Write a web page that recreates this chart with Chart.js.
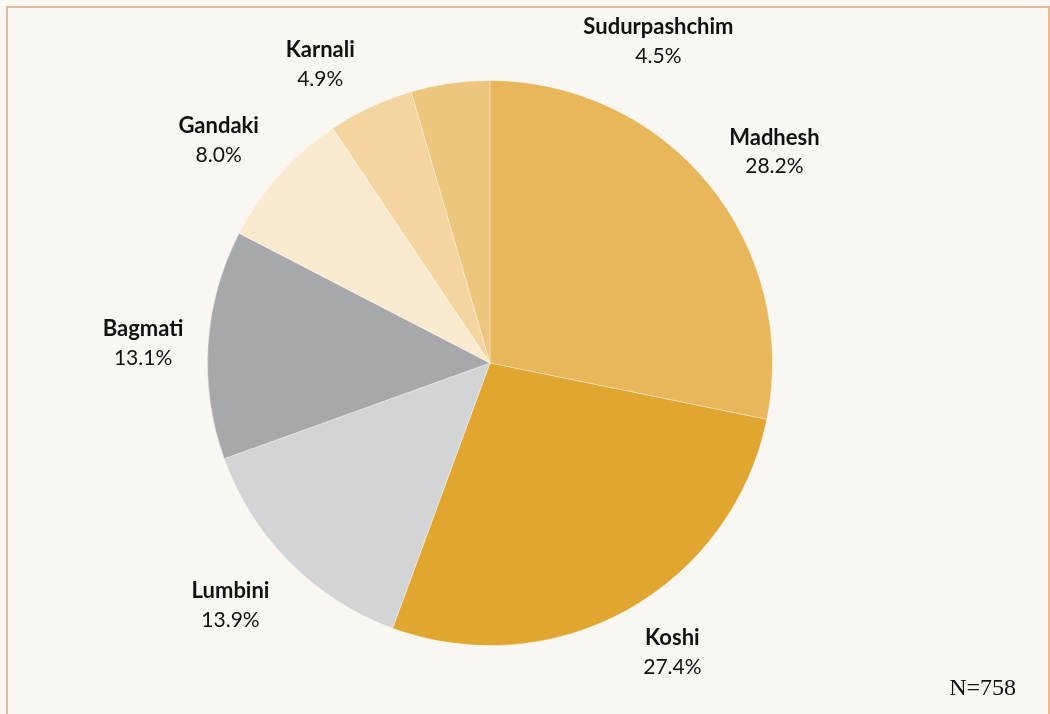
<!DOCTYPE html>
<html>
<head>
<meta charset="utf-8">
<script src="https://cdn.jsdelivr.net/npm/chart.js@4"></script>
<style>
    body { margin: 0; background: #faf6f1; }
    #wrap { position: relative; width: 1050px; height: 714px; }
    #frame { position: absolute; left: 6px; top: 6px; width: 1040px; height: 720px; border: 2px solid #e2bc96; }
    canvas { position: absolute; left: 0; top: 0; }
</style>
</head>
<body>
<div id="wrap">
    <div id="frame"></div>
    <canvas id="provinces" width="1050" height="714"></canvas>
</div>
<script>
const provinces = ['Madhesh', 'Koshi', 'Lumbini', 'Bagmati', 'Gandaki', 'Karnali', 'Sudurpashchim']
const shares = [28.2, 27.4, 13.9, 13.1, 8.0, 4.9, 4.5]
const colours = ['#e8b75c', '#e0a630', '#d3d4d6', '#a7a8ab', '#faeacf', '#f4d5a0', '#edc67e']
const sampleNote = 'N=758'

// label nudges (x, y) from the radial position, the small top slice label sits off to the right
const labelShift = [[12, 11], [11, -18], [-10, -6], [4, 3], [-9, 11], [-21, 20], [218, 26]]

const labelsPlugin = {
    id: 'outsideLabels',
    afterDatasetsDraw(chart) {
        const ctx = chart.ctx
        const meta = chart.getDatasetMeta(0)
        ctx.save()
        ctx.textAlign = 'center'
        ctx.textBaseline = 'middle'
        ctx.fillStyle = '#111'
        meta.data.forEach((arc, i) => {
            const mid = (arc.startAngle + arc.endAngle) / 2
            const r = arc.outerRadius * 1.245
            const x = arc.x + Math.cos(mid) * r + labelShift[i][0]
            const y = arc.y + Math.sin(mid) * r + labelShift[i][1]
            ctx.font = 'bold 22px Lato, "Open Sans", sans-serif'
            ctx.fillText(provinces[i], x, y - 14)
            ctx.font = '21px Lato, "Open Sans", sans-serif'
            ctx.fillText(shares[i].toFixed(1) + '%', x, y + 15)
        })
        ctx.font = '24px "Liberation Serif", "DejaVu Serif", serif'
        ctx.textAlign = 'right'
        ctx.fillText(sampleNote, 1016, 689)
        ctx.restore()
    }
}

const chart = new Chart(document.getElementById('provinces').getContext('2d'), {
    type: 'pie',
    data: {
        labels: provinces,
        datasets: [{
            data: shares,
            backgroundColor: colours,
            borderColor: 'rgba(255,255,255,0.35)',
            borderWidth: 1
        }]
    },
    options: {
        responsive: false,
        animation: false,
        layout: { padding: { top: 80, bottom: 68, left: 150, right: 220 } },
        plugins: {
            legend: { display: false },
            tooltip: { enabled: false }
        }
    },
    plugins: [labelsPlugin]
})
</script>
</body>
</html>
